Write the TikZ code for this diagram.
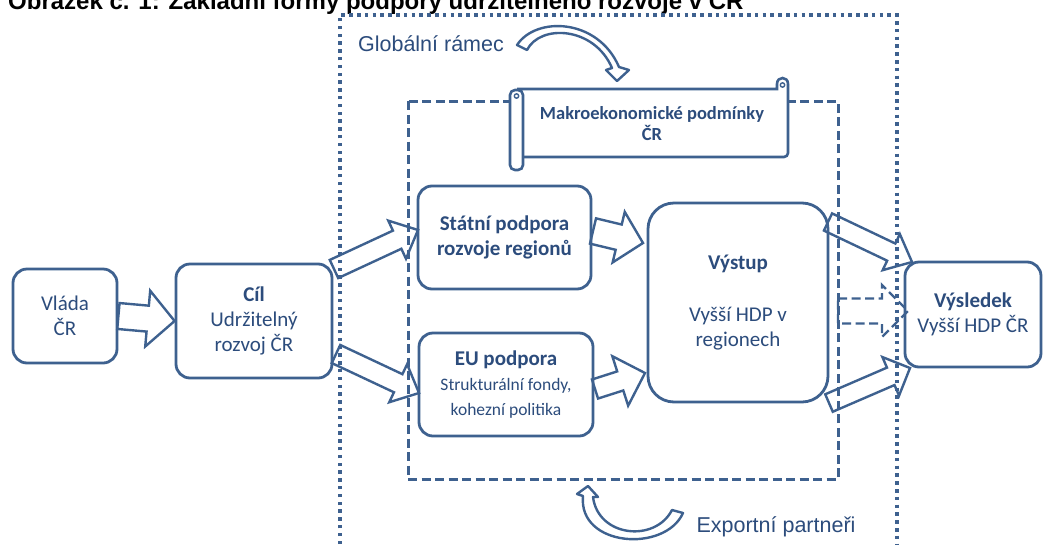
\documentclass[tikz,border=0pt]{standalone}
\usepackage{fontspec}
\setmainfont{Carlito}
\newfontfamily\arialf{Liberation Sans}
\usetikzlibrary{calc}
\definecolor{lblue}{RGB}{62,97,143}
\definecolor{tblue}{RGB}{44,76,124}
\newcommand\smallfs{\fontsize{17.5}{21.5}\selectfont}
% block arrow: [opts]{tail}{tip}{shaft half width}{head half width}{head length}
\newcommand\blockarrow[6][]{%
  \coordinate (ba-h) at ($(#3)!#6!(#2)$);
  \draw[barr,#1] ($(#2)!#4!90:(#3)$) -- ($(ba-h)!#4!90:(#3)$) -- ($(ba-h)!#5!90:(#3)$) -- (#3)
    -- ($(ba-h)!#5!-90:(#3)$) -- ($(ba-h)!#4!-90:(#3)$) -- ($(#2)!#4!-90:(#3)$) -- cycle;}
\begin{document}
\begin{tikzpicture}[x=1pt,y=-1pt,
  box/.style={draw=lblue, line width=2.8pt, rounded corners=14pt, fill=white, align=center,
    text=tblue, inner sep=0pt, font=\fontsize{21}{25}\selectfont},
  barr/.style={draw=lblue, line width=2.4pt, line join=miter},
  dotline/.style={draw=lblue, line width=3.2pt, dash pattern=on 3.5pt off 4.3pt},
  dashline/.style={draw=lblue, line width=3pt, dash pattern=on 9pt off 4.5pt},
  lbl/.style={text=tblue, font=\arialf\fontsize{21.5}{25}\selectfont, inner sep=0pt}]
\fill[white] (0,0) rectangle (1043,544);
\useasboundingbox (0,0) rectangle (1043,544);

% title
\node[anchor=base west, inner sep=0pt, font=\arialf\bfseries\fontsize{24}{28}\selectfont] (title) at (8,9)
  {Obrázek č. 1: Základní formy podpory udržitelného rozvoje v ČR};

% frames
\draw[dotline] (340,544) -- (340,15) -- (897,15) -- (897,544);
\draw[dashline] (408,101) rectangle (838,479);

% boxes
\node[box, minimum width=104pt, minimum height=94pt] (vlada) at (65,316) {Vláda\\ČR};
\node[box, minimum width=156pt, minimum height=114pt] (cil) at (254,321) {\textbf{Cíl}\\Udržitelný\\rozvoj ČR};
\node[box, minimum width=173pt, minimum height=103pt] (statni) at (504.5,237.5) {\textbf{Státní podpora}\\\textbf{rozvoje regionů}};
\node[box, minimum width=174pt, minimum height=103pt] (eu) at (506,384.5)
  {\textbf{EU podpora}\\ \smallfs Strukturální fondy,\\ \smallfs kohezní politika};
\node[box, rounded corners=26pt, minimum width=180pt, minimum height=199pt] (vystup) at (738,302.5)
  {\textbf{Výstup}\\[27pt]Vyšší HDP v\\regionech};
\node[box, minimum width=136pt, minimum height=105pt] (vysledek) at (973,314.5) {\textbf{Výsledek}\\Vyšší HDP ČR};

% scroll
\fill[white] (517,89) rectangle (788,157);
\draw[lblue, line width=2.6pt, rounded corners=4pt] (523,157) -- (788,157) -- (788,84);
\draw[lblue, line width=2.6pt] (788,84) .. controls (788,76) and (777,76) .. (777,84) -- (777,89) -- (517,89);
\draw[lblue, line width=1.4pt] (782.5,85) circle (2.2pt);
\filldraw[draw=lblue, fill=white, line width=2.6pt, rounded corners=5pt] (510,90) rectangle (523,170);
\draw[lblue, line width=1.4pt] (516.5,96) circle (2.2pt);
\node[text=tblue, font=\bfseries\fontsize{18.5}{21.5}\selectfont, align=center, inner sep=0pt] (makro) at (652,123.5)
  {Makroekonomické podmínky\\ČR};

% labels
\node[lbl] (glob) at (431,44) {Globální rámec};
\node[lbl] (exp) at (776,527) {Exportní partneři};

% curved arrows
\draw[barr, line join=round] (517,45) .. controls (536,16) and (598,18) .. (619,67) -- (629,70) -- (617,81) -- (606,70)
  -- (612,68) .. controls (594,26) and (540,24) .. (527,50) -- cycle;
\draw[barr, line join=round] (588,486) -- (598,497) -- (593,497) .. controls (598,537) and (655,543) .. (672,510)
  -- (683,513) .. controls (665,553) and (578,547) .. (583,496) -- (577,494) -- cycle;

% block arrows
\coordinate (a1s) at (334,269); \coordinate (a1e) at (418,230);
\coordinate (a2s) at (336,354); \coordinate (a2e) at (419,393);
\coordinate (a3s) at (593,231); \coordinate (a3e) at (643,243);
\coordinate (a4s) at (595,389); \coordinate (a4e) at (645,373);
\coordinate (a5s) at (828,222); \coordinate (a5e) at (912,262);
\coordinate (a6s) at (829,403); \coordinate (a6e) at (910,368);
\coordinate (a7s) at (838,311); \coordinate (a7e) at (908,311);
\coordinate (a0s) at (vlada.east); \coordinate (a0e) at (cil.west);
\blockarrow{a0s}{a0e}{13pt}{28pt}{27pt}
\blockarrow{a1s}{a1e}{10pt}{21pt}{23pt}
\blockarrow{a2s}{a2e}{10pt}{21pt}{23pt}
\blockarrow{a3s}{a3e}{13pt}{26pt}{25pt}
\blockarrow{a4s}{a4e}{10pt}{26pt}{26pt}
\blockarrow{a5s}{a5e}{9.5pt}{20pt}{23pt}
\blockarrow{a6s}{a6e}{9.5pt}{21pt}{21pt}
\blockarrow[dash pattern=on 9pt off 4.5pt]{a7s}{a7e}{12.5pt}{26pt}{26pt}
\end{tikzpicture}
\end{document}
